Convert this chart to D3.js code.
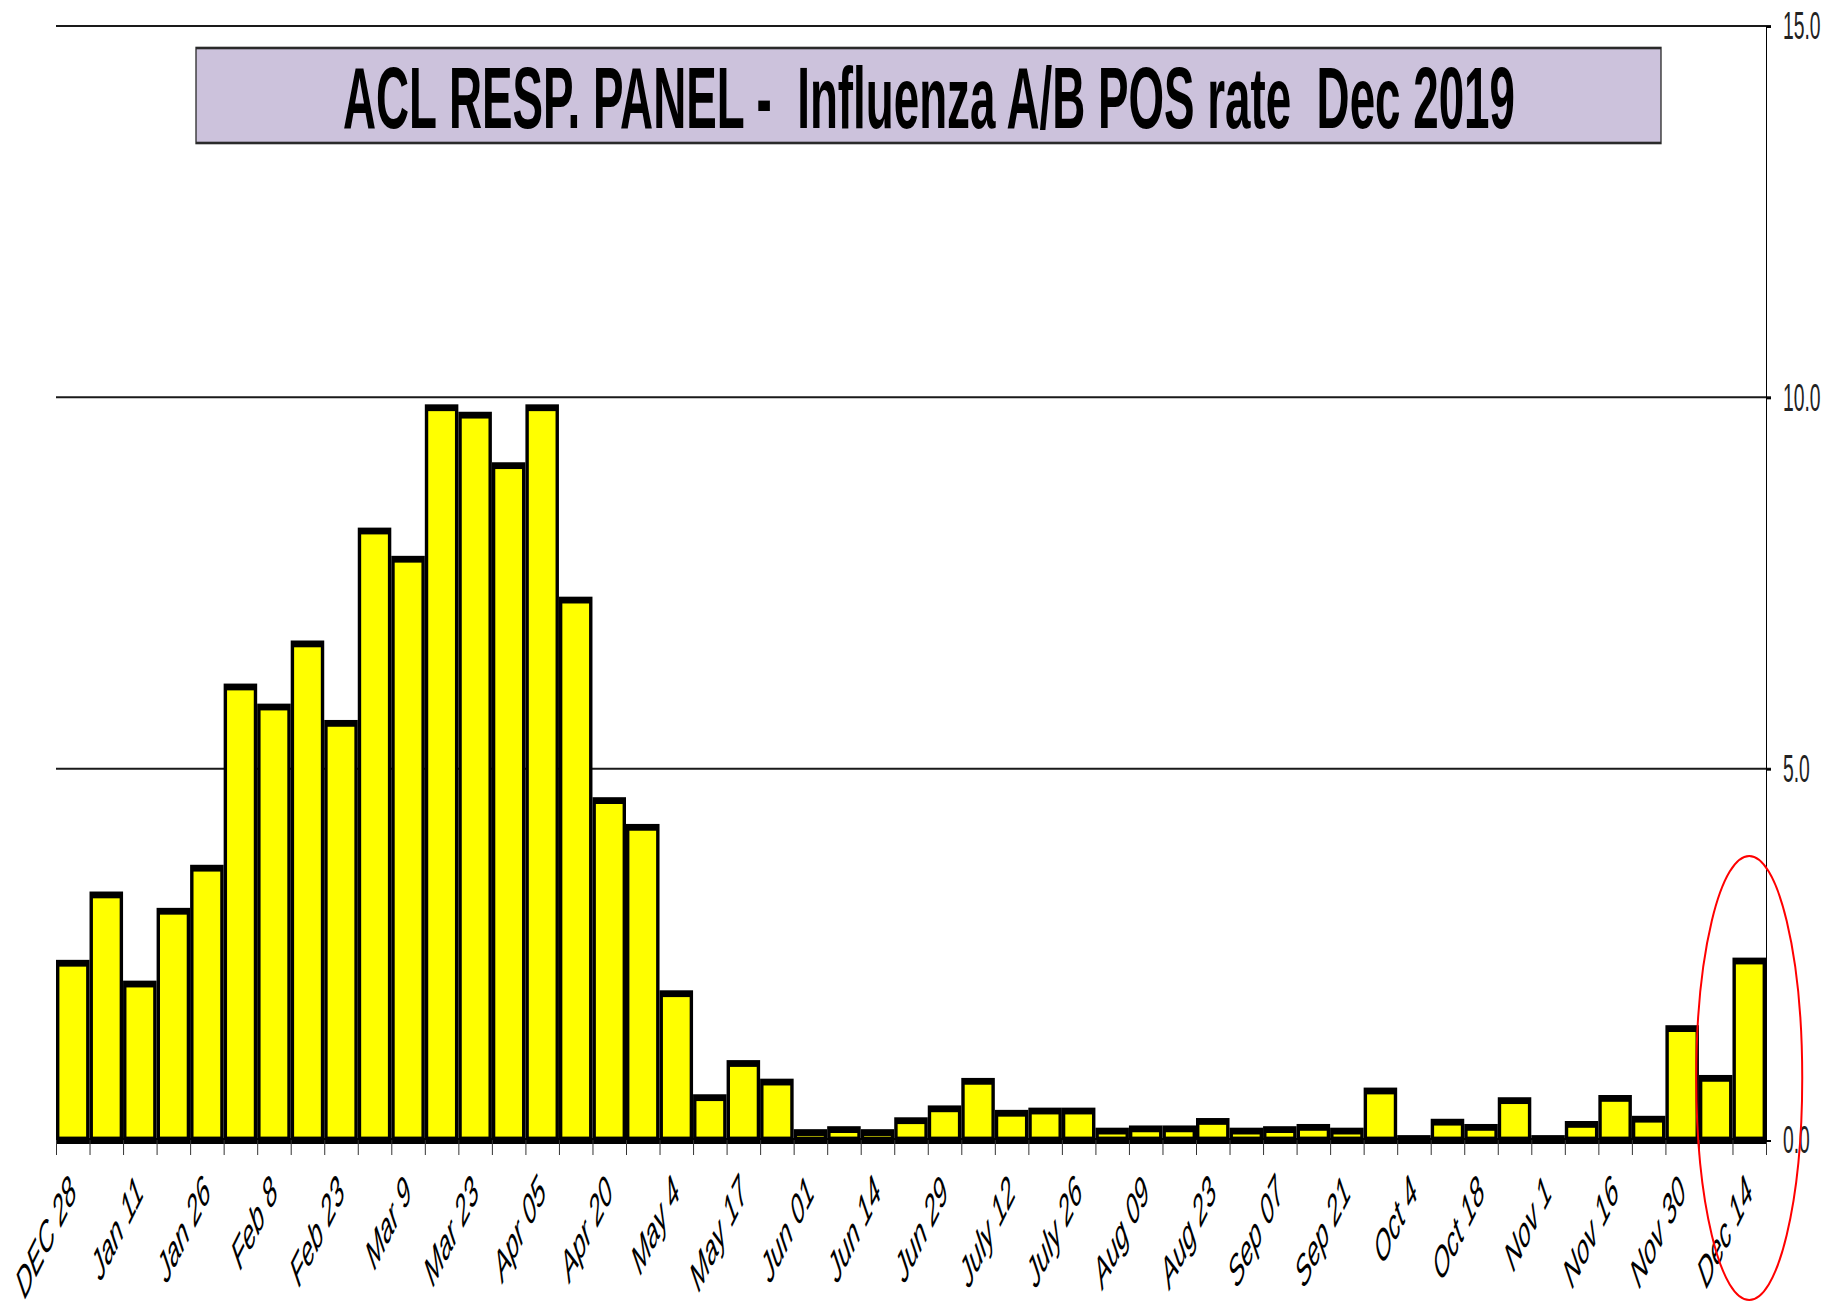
<!DOCTYPE html>
<html>
<head>
<meta charset="utf-8">
<script src="https://cdn.jsdelivr.net/npm/d3@7"></script>
<style>
  body { margin: 0; background: #fff; }
  text { font-family: "Liberation Sans", Arial, sans-serif; }
</style>
</head>
<body>
<svg id="chart"></svg>
<script>
// weekly Influenza A/B positive rate (%), Dec 28 -> Dec 14
var values = [2.38, 3.30, 2.10, 3.08, 3.66, 6.10, 5.83, 6.68, 5.61, 8.20,
              7.82, 9.86, 9.76, 9.08, 9.86, 7.27, 4.57, 4.21, 1.97, 0.57,
              1.03, 0.78, 0.10, 0.14, 0.10, 0.26, 0.42, 0.79, 0.36, 0.39,
              0.39, 0.12, 0.15, 0.15, 0.25, 0.12, 0.14, 0.17, 0.12, 0.66,
              0.02, 0.24, 0.17, 0.53, 0.02, 0.21, 0.56, 0.28, 1.50, 0.83,
              2.41]

// one label every second week
var labels = ["DEC 28", "Jan 11", "Jan 26", "Feb 8", "Feb 23", "Mar 9", "Mar 23",
              "Apr 05", "Apr 20", "May 4", "May 17", "Jun 01", "Jun 14", "Jun 29",
              "July 12", "July 26", "Aug 09", "Aug 23", "Sep 07", "Sep 21", "Oct 4",
              "Oct 18", "Nov 1", "Nov 16", "Nov 30", "Dec 14"]

var yTicks = [0, 5, 10, 15]
var gridTicks = [5, 10, 15]

var title = "ACL RESP. PANEL -  Influenza A/B POS rate  Dec 2019"

var width = 1837
var height = 1306
// the picture is stretched 2x vertically, so draw at half height and scale
var stretch = 2
var margin = ({top: 13, right: 71, bottom: 83, left: 56})
var innerH = height / stretch

var x = d3.scaleBand()
  .domain(d3.range(values.length))
  .range([margin.left, width - margin.right])
  .padding(0)

var xb = d3.scaleLinear()
  .domain([0, values.length])
  .range([margin.left, width - margin.right])

var y = d3.scaleLinear()
  .domain([0, 15])
  .range([innerH - margin.bottom, margin.top])

const svg = d3.select("#chart")
  .attr("width", width)
  .attr("height", height)
  .attr("viewBox", [0, 0, width, height])

const g = svg.append("g")
  .attr("transform", `scale(1,${stretch})`)

// gridlines
g.append("g")
  .selectAll("line")
  .data(gridTicks)
  .join("line")
    .attr("x1", margin.left)
    .attr("x2", width - margin.right + 5)
    .attr("y1", d => y(d))
    .attr("y2", d => y(d))
    .attr("stroke", "#1a1a1a")
    .attr("stroke-width", 1)

// title box
var tb = g.append("g")
tb.append("rect")
  .attr("x", 196)
  .attr("y", 24)
  .attr("width", 1465)
  .attr("height", 47.5)
  .attr("fill", "#ccc2dc")
  .attr("stroke", "#2a2a2a")
  .attr("stroke-width", 1.3)

var tt = tb.append("text")
  .attr("x", 929)
  .attr("y", 64)
  .attr("text-anchor", "middle")
  .attr("font-weight", "bold")
  .attr("font-size", 44)
  .attr("fill", "#000")
  .style("white-space", "pre")
  .text(title)
var tw = tt.node().getComputedTextLength()
tt.attr("transform", `translate(929,0) scale(${1172 / tw},1) translate(-929,0)`)

// bars
var inset = 1.7
var bars = g.append("g")
bars.selectAll("rect")
  .data(values)
  .join("rect")
    .attr("x", (d, i) => x(i) + inset)
    .attr("y", d => y(d))
    .attr("width", x.bandwidth() - inset * 2)
    .attr("height", d => y(0) - y(d))
    .attr("fill", "#ffff00")
    .attr("stroke", "#000")
    .attr("stroke-width", 3.4)

// x axis: thick baseline + ticks at week boundaries
var xAxis = g => g
  .attr("transform", `translate(0,${y(0)})`)
  .call(d3.axisBottom(xb).tickValues(d3.range(values.length + 1)).tickFormat("").tickSize(7.5).tickSizeOuter(0))
  .call(g => g.select(".domain").attr("stroke", "#000").attr("stroke-width", 3))
  .call(g => g.selectAll(".tick line").attr("stroke", "#333").attr("stroke-width", 1))

g.append("g").call(xAxis)

// x labels
g.append("g")
  .selectAll("text")
  .data(labels)
  .join("text")
    .attr("transform", (d, i) => `translate(${x(i * 2) + x.bandwidth() / 2 + 5},${y(0) + 27}) rotate(-45)`)
    .attr("text-anchor", "end")
    .attr("font-style", "italic")
    .attr("font-size", 21.5)
    .attr("fill", "#000")
    .text(d => d)

// right value axis
var yAxis = g => g
  .attr("transform", `translate(${width - margin.right},0)`)
  .call(d3.axisRight(y).tickValues(yTicks).tickFormat(d3.format(".1f")).tickSize(5).tickSizeOuter(0).tickPadding(12))
  .call(g => g.select(".domain").attr("stroke", "#000").attr("stroke-width", 1))
  .call(g => g.selectAll(".tick line").attr("stroke", "#000").attr("stroke-width", 1))
  .call(g => g.selectAll(".tick text")
      .attr("font-size", 19.3)
      .attr("font-family", "Liberation Sans, Arial, sans-serif")
      .attr("fill", "#222"))

g.append("g").call(yAxis)

// red circle around the last weeks (drawn unstretched)
var last = values.length - 1
svg.append("ellipse")
  .attr("cx", x(last) + x.bandwidth() / 2)
  .attr("cy", 1078)
  .attr("rx", 53)
  .attr("ry", 222)
  .attr("fill", "none")
  .attr("stroke", "#ff0000")
  .attr("stroke-width", 2)
</script>
</body>
</html>
